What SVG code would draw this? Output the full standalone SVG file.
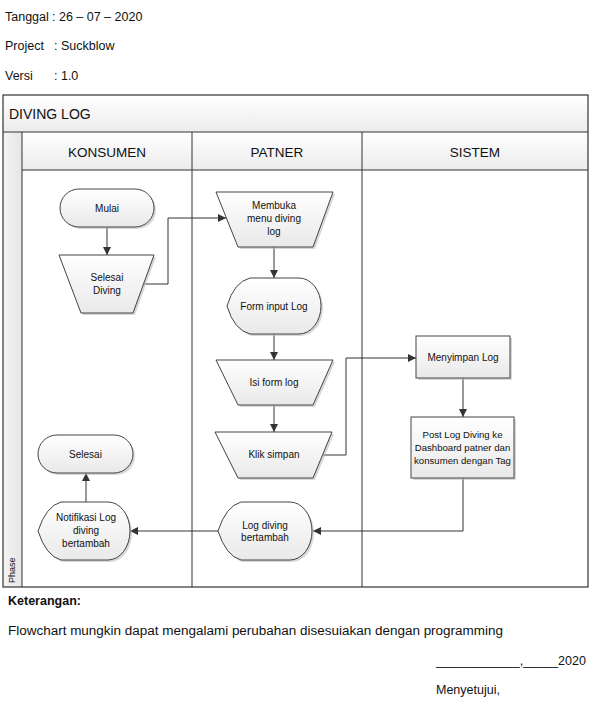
<svg xmlns="http://www.w3.org/2000/svg" width="590" height="704" viewBox="0 0 590 704">
<defs>
<linearGradient id="nodeFill" x1="0" y1="0" x2="0" y2="1">
<stop offset="0" stop-color="#ffffff"/>
<stop offset="1" stop-color="#e9e9e9"/>
</linearGradient>
<linearGradient id="headFill" x1="0" y1="0" x2="0" y2="1">
<stop offset="0" stop-color="#ffffff"/>
<stop offset="1" stop-color="#ececec"/>
</linearGradient>
<linearGradient id="phaseFill" x1="0" y1="0" x2="1" y2="0">
<stop offset="0" stop-color="#f4f4f4"/>
<stop offset="1" stop-color="#e6e6e6"/>
</linearGradient>
<marker id="arr" viewBox="0 0 10 10" refX="10" refY="5" markerWidth="8" markerHeight="8" markerUnits="userSpaceOnUse" orient="auto">
<path d="M0,0 L10,5 L0,10 Z" fill="#333333"/>
</marker>
</defs>
<style>
text{font-family:"Liberation Sans",Arial,sans-serif;fill:#111111;}
.doc{font-size:12.5px;}
.head{font-size:13.5px;text-anchor:middle;}
.lbl{font-size:10px;text-anchor:middle;}
.sm{font-size:9.6px;text-anchor:middle;}
.node{fill:url(#nodeFill);stroke:#444444;stroke-width:1;}
.shadow{fill:#bdbdbd;stroke:none;opacity:0.6;}
.frame{fill:none;stroke:#333333;stroke-width:1.2;}
.lane{stroke:#333333;stroke-width:1;}
.conn{fill:none;stroke:#333333;stroke-width:1;marker-end:url(#arr);}
</style>
<rect width="590" height="704" fill="#ffffff"/>

<g id="doc-header">
<text class="doc" x="5" y="21">Tanggal</text>
<text class="doc" x="52" y="21">: 26 – 07 – 2020</text>
<text class="doc" x="5" y="50">Project</text>
<text class="doc" x="54" y="50">: Suckblow</text>
<text class="doc" x="5" y="80">Versi</text>
<text class="doc" x="54" y="80">: 1.0</text>
</g>

<g id="swimlane">
<rect x="3" y="95" width="585" height="37" fill="url(#headFill)"/>
<rect x="3" y="132" width="19" height="455" fill="url(#phaseFill)"/>
<rect x="22" y="132" width="566" height="38" fill="url(#headFill)"/>
<rect x="3" y="95" width="585" height="492" class="frame"/>
<line class="lane" x1="3" y1="132" x2="588" y2="132"/>
<line class="lane" x1="22" y1="170" x2="588" y2="170"/>
<line class="lane" x1="22" y1="132" x2="22" y2="587"/>
<line class="lane" x1="192" y1="132" x2="192" y2="587"/>
<line class="lane" x1="362" y1="132" x2="362" y2="587"/>
<text x="9" y="119" style="font-size:14px">DIVING LOG</text>
<text class="head" x="107" y="157">KONSUMEN</text>
<text class="head" x="277" y="157">PATNER</text>
<text class="head" x="475" y="157">SISTEM</text>
<text x="0" y="0" style="font-size:9px" transform="translate(15,583) rotate(-90)">Phase</text>
</g>

<g id="connectors">
<path class="conn" d="M107,227 L107,255"/>
<path class="conn" d="M143,284 L168,284 L168,218 L226,218"/>
<path class="conn" d="M274,247 L274,278"/>
<path class="conn" d="M274,334 L274,360"/>
<path class="conn" d="M274,405 L274,432"/>
<path class="conn" d="M323,455 L346,455 L346,358 L416,358"/>
<path class="conn" d="M463,378 L463,417"/>
<path class="conn" d="M463,478 L463,531 L313,531"/>
<path class="conn" d="M218,531 L130,531"/>
<path class="conn" d="M86,502 L86,473"/>
</g>

<g id="n-mulai">
<rect class="shadow" x="62" y="191" width="94" height="38" rx="19"/>
<rect class="node" x="60" y="189" width="94" height="38" rx="19"/>
<text class="lbl" x="107" y="211.5">Mulai</text>
</g>

<g id="n-selesai-diving">
<path class="shadow" d="M61,257 L156,257 L135,315 L83,315 Z"/>
<path class="node" d="M59,255 L154,255 L133,313 L81,313 Z"/>
<text class="lbl" x="107" y="281">Selesai</text>
<text class="lbl" x="107" y="294">Diving</text>
</g>

<g id="n-membuka">
<path class="shadow" d="M218,194 L335,194 L315,249 L240,249 Z"/>
<path class="node" d="M216,192 L333,192 L313,247 L238,247 Z"/>
<text class="lbl" x="274" y="209">Membuka</text>
<text class="lbl" x="274" y="222">menu diving</text>
<text class="lbl" x="274" y="235">log</text>
</g>

<g id="n-form-input">
<path class="shadow" d="M229,308 Q236,284 252,280 L301,280 A22,28 0 0 1 301,336 L252,336 Q236,332 229,308 Z"/>
<path class="node" d="M227,306 Q234,282 250,278 L299,278 A22,28 0 0 1 299,334 L250,334 Q234,330 227,306 Z"/>
<text class="lbl" x="274" y="309.5">Form input Log</text>
</g>

<g id="n-isi-form">
<path class="shadow" d="M218,362 L335,362 L315,407 L240,407 Z"/>
<path class="node" d="M216,360 L333,360 L313,405 L238,405 Z"/>
<text class="lbl" x="274" y="386">Isi form log</text>
</g>

<g id="n-klik-simpan">
<path class="shadow" d="M217,434 L334,434 L315,480 L240,480 Z"/>
<path class="node" d="M215,432 L332,432 L313,478 L238,478 Z"/>
<text class="lbl" x="274" y="458">Klik simpan</text>
</g>

<g id="n-menyimpan">
<rect class="shadow" x="418" y="338" width="94" height="42"/>
<rect class="node" x="416" y="336" width="94" height="42"/>
<text class="lbl" x="463" y="361">Menyimpan Log</text>
</g>

<g id="n-post">
<rect class="shadow" x="413" y="419" width="103" height="61"/>
<rect class="node" x="411" y="417" width="103" height="61"/>
<text class="sm" x="462.5" y="438">Post Log Diving ke</text>
<text class="sm" x="462.5" y="451">Dashboard patner dan</text>
<text class="sm" x="462.5" y="464">konsumen dengan Tag</text>
</g>

<g id="n-log-diving">
<path class="shadow" d="M220,533 Q228,508 243,504 L292,504 A22,29 0 0 1 292,562 L243,562 Q228,558 220,533 Z"/>
<path class="node" d="M218,531 Q226,506 241,502 L290,502 A22,29 0 0 1 290,560 L241,560 Q226,556 218,531 Z"/>
<text class="lbl" x="265" y="529">Log diving</text>
<text class="lbl" x="265" y="541">bertambah</text>
</g>

<g id="n-notifikasi">
<path class="shadow" d="M40,533 Q48,508 63,504 L110,504 A22,29 0 0 1 110,562 L63,562 Q48,558 40,533 Z"/>
<path class="node" d="M38,531 Q46,506 61,502 L108,502 A22,29 0 0 1 108,560 L61,560 Q46,556 38,531 Z"/>
<text class="lbl" x="86" y="521">Notifikasi Log</text>
<text class="lbl" x="86" y="534">diving</text>
<text class="lbl" x="86" y="547">bertambah</text>
</g>

<g id="n-selesai">
<rect class="shadow" x="40" y="437" width="95" height="38" rx="19"/>
<rect class="node" x="38" y="435" width="95" height="38" rx="19"/>
<text class="lbl" x="85.5" y="457.5">Selesai</text>
</g>

<g id="doc-footer">
<text class="doc" x="8" y="605" style="font-weight:bold">Keterangan:</text>
<text class="doc" x="8" y="635" textLength="495" lengthAdjust="spacingAndGlyphs">Flowchart mungkin dapat mengalami perubahan disesuiakan dengan programming</text>
<text class="doc" x="436" y="665" textLength="150" lengthAdjust="spacingAndGlyphs">____________,_____2020</text>
<text class="doc" x="436" y="694">Menyetujui,</text>
</g>
</svg>
